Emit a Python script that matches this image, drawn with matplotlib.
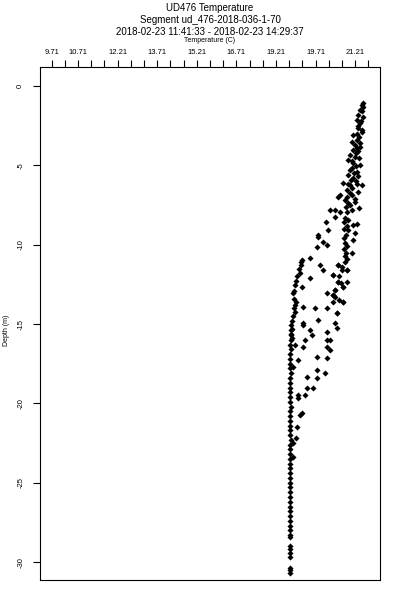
import matplotlib
matplotlib.use('Agg')
matplotlib.rcParams['font.family'] = ['Liberation Sans', 'DejaVu Sans']
import numpy as np
import matplotlib.pyplot as plt

# upper warm band (depth m, temperature C)
band_depth = [-1.05, -1.20, -1.30, -1.51, -1.60, -1.83, -1.95, -2.14, -2.20, -2.33,
              -2.50, -2.65, -2.75, -2.88, -3.00, -3.09, -3.20, -3.40, -3.51, -3.60,
              -3.72, -3.82, -3.90, -4.03, -4.10, -4.25, -4.35, -4.45, -4.55, -4.66,
              -4.75, -4.85, -4.98, -5.05, -5.17, -5.30, -5.40, -5.50, -5.61, -5.70,
              -5.80, -5.90, -6.00, -6.11, -6.15, -6.24, -6.20, -6.24, -6.40, -6.55,
              -6.66, -6.75, -6.87, -6.87, -7.00, -7.10, -7.18, -7.29, -7.40, -7.50,
              -7.60, -7.81, -7.81, -7.92, -7.81, -7.95, -7.70, -8.32, -8.45, -8.60,
              -8.80, -9.00, -9.10, -9.40, -9.60, -9.90, -10.10, -10.30, -10.50, -10.70,
              -10.90, -11.09, -11.40, -11.59, -11.59, -12.00, -12.35, -12.40, -12.67, -12.85,
              -13.17, -13.30, -13.50, -13.61, -13.61, -8.70, -9.26, -9.70, -10.52, -8.76]
band_temp = [21.50, 21.45, 21.52, 21.39, 21.47, 21.31, 21.50, 21.26, 21.42, 21.39,
             21.33, 21.31, 21.48, 21.45, 21.27, 21.12, 21.35, 21.26, 21.07, 21.40,
             21.20, 21.39, 21.28, 21.12, 21.33, 21.22, 21.01, 21.20, 21.36, 20.93,
             21.10, 21.12, 21.39, 21.25, 21.07, 21.00, 21.26, 21.15, 20.93, 21.30,
             21.12, 21.04, 21.22, 20.74, 20.95, 21.01, 21.26, 21.45, 21.10, 20.88,
             21.31, 21.00, 21.07, 20.63, 20.90, 21.20, 20.82, 21.20, 20.95, 21.01,
             20.85, 20.25, 20.44, 20.63, 21.07, 20.90, 21.36, 20.82, 20.95, 20.78,
             20.88, 20.80, 20.95, 20.85, 20.78, 20.82, 20.90, 20.80, 20.85, 20.82,
             20.90, 20.82, 20.70, 20.71, 20.90, 20.60, 20.55, 20.65, 20.74, 20.44,
             20.37, 20.45, 20.60, 20.74, 20.37, 21.27, 21.20, 21.12, 21.08, 21.12]

# cooler branch and scattered points between branches
mid_depth = [-7.00, -8.24, -8.55, -9.07, -9.39, -9.50, -9.83, -10.02, -10.14, -10.84,
             -10.96, -11.09, -11.28, -11.28, -11.59, -11.78, -11.91, -12.10, -12.35, -12.54,
             -12.67, -12.67, -12.85, -13.04, -13.04, -13.17, -13.80, -13.93, -13.99, -13.99,
             -14.24, -14.30, -14.74, -14.93, -14.93, -15.06, -15.06, -15.25, -15.37, -15.50,
             -11.30, -11.50, -12.00, -12.30, -12.90, -13.40, -13.60, -14.00, -14.50, -14.80,
             -15.30, -15.60, -15.88, -16.01, -15.69, -16.00, -16.00, -16.45, -16.64, -16.45,
             -16.32, -17.08, -17.14, -17.27, -17.71, -17.90, -18.08, -18.34, -18.40, -19.03,
             -19.03, -19.47, -19.47, -19.66, -20.60, -20.73, -21.49, -22.18, -22.50, -23.38,
             -12.35, -11.91, -11.59, -11.28, -13.61, -14.30]
mid_temp = [20.55, 20.44, 20.11, 20.18, 19.80, 19.80, 19.99, 20.14, 19.76, 19.49,
            19.19, 19.15, 19.87, 20.55, 19.99, 19.11, 20.37, 19.49, 20.90, 18.93,
            19.19, 20.74, 20.44, 20.14, 18.85, 20.37, 18.93, 19.23, 19.68, 20.14,
            18.93, 20.52, 19.80, 20.44, 19.23, 18.77, 19.23, 20.52, 19.49, 20.14,
            19.15, 19.08, 19.00, 18.95, 18.90, 18.88, 18.95, 18.90, 18.85, 18.82,
            18.80, 18.78, 18.81, 19.30, 19.57, 20.15, 20.25, 20.14, 20.25, 19.23,
            18.93, 19.76, 20.14, 19.04, 18.85, 19.76, 20.06, 19.38, 19.76, 19.38,
            19.61, 19.04, 19.30, 19.04, 19.19, 19.11, 19.00, 18.96, 18.85, 18.85,
            20.55, 20.37, 20.90, 20.55, 20.74, 20.52]

# cold near-isothermal column at depth
deep_depth = [-15.40, -15.70, -16.00, -16.30, -16.60, -16.90, -17.20, -17.50, -17.80, -18.10,
              -18.40, -18.70, -19.00, -19.30, -19.60, -19.90, -20.20, -20.50, -20.80, -21.10,
              -21.40, -21.70, -22.00, -22.30, -22.60, -22.90, -23.20, -23.50, -23.80, -24.10,
              -24.40, -24.70, -25.00, -25.30, -25.60, -25.90, -26.20, -26.50, -26.80, -27.10,
              -27.40, -27.70, -28.00, -28.30, -28.45, -29.00, -29.20, -29.40, -29.70, -30.35,
              -30.50, -30.70]
deep_temp = [18.78, 18.76, 18.77, 18.75, 18.76, 18.74, 18.75, 18.73, 18.74, 18.76,
             18.74, 18.72, 18.74, 18.75, 18.73, 18.74, 18.76, 18.74, 18.73, 18.75,
             18.74, 18.72, 18.74, 18.76, 18.74, 18.73, 18.75, 18.74, 18.72, 18.74,
             18.75, 18.73, 18.74, 18.72, 18.74, 18.75, 18.73, 18.74, 18.72, 18.74,
             18.73, 18.74, 18.72, 18.73, 18.74, 18.73, 18.74, 18.72, 18.73, 18.73,
             18.74, 18.72]

depth = np.array(band_depth + mid_depth + deep_depth)
temp = np.array(band_temp + mid_temp + deep_temp)

xtick_vals = [9.71 + 0.5 * i for i in range(25)]
xtick_labels = {0: '9.71', 2: '10.71', 5: '12.21', 8: '13.71', 11: '15.21',
                14: '16.71', 17: '19.21', 20: '19.71', 23: '21.21'}
ytick_vals = [0, -5, -10, -15, -20, -25, -30]

fig = plt.figure(figsize=(4, 6), dpi=100)
ax = fig.add_axes([39.5 / 400, 20 / 600, 340.5 / 400, 512.7 / 600])

ax.plot(temp, depth, linestyle='none', marker='D', markersize=3.1,
        color='black', markeredgewidth=0)

ax.set_xlim(9.248, 22.146)
ax.set_ylim(-31.13, 1.18)

ax.xaxis.tick_top()
ax.set_xticks(xtick_vals)
ax.set_xticklabels([xtick_labels.get(i, '') for i in range(len(xtick_vals))])
ax.set_yticks(ytick_vals)
ax.set_yticklabels([str(v) for v in ytick_vals], rotation=90, va='center')
ax.tick_params(axis='x', length=5, width=0.8, labelsize=5.5, pad=3)
ax.tick_params(axis='y', length=5, width=0.8, labelsize=5.5, pad=6)
for s in ax.spines.values():
    s.set_linewidth(0.8)

fig.text(0.525, 1 - 8 / 600, 'UD476 Temperature', ha='center', va='center', fontsize=7)
fig.text(0.525, 1 - 20 / 600, 'Segment ud_476-2018-036-1-70', ha='center', va='center', fontsize=7)
fig.text(0.525, 1 - 32 / 600, '2018-02-23 11:41:33 - 2018-02-23 14:29:37',
         ha='center', va='center', fontsize=7)
fig.text(0.525, 1 - 41 / 600, 'Temperature (C)', ha='center', va='center', fontsize=5)
fig.text(7 / 400, 1 - 330 / 600, 'Depth (m)', ha='center', va='center', rotation=90, fontsize=5)

fig.savefig('out.png', dpi=100)
